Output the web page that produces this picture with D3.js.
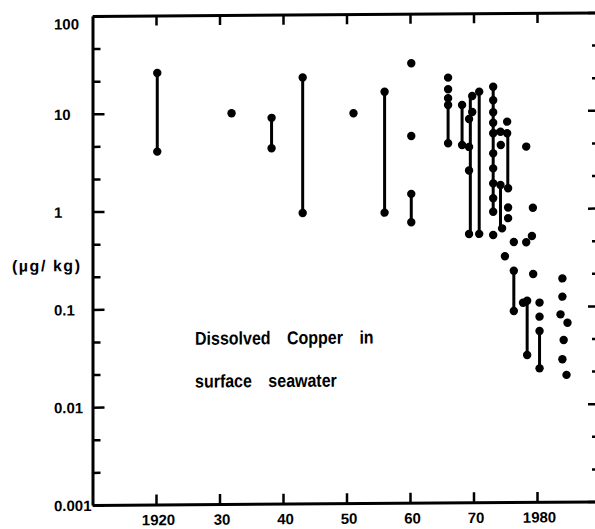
<!DOCTYPE html>
<html lang="en">
<head>
<meta charset="utf-8">
<script src="https://cdn.jsdelivr.net/npm/d3@7"></script>
<style>
	body { margin:0; padding:0; background:#ffffff; }
	svg text { font-family: "Liberation Sans", Arial, sans-serif; font-weight: bold; font-size: 15px; fill: #000; }
</style>
</head>
<body>
<svg id="chart" width="595" height="529"></svg>
<script>
// y axis (log), value and label
var yMajor = [0.001, 0.01, 0.1, 1, 10, 100];
var yLabels = ["0.001", "0.01", "0.1", "1", "10", "100"];
// x axis years
var xTicks = [1920, 1930, 1940, 1950, 1960, 1970, 1980];
var xLabels = ["1920", "30", "40", "50", "60", "70", "1980"];

// measurements: [year, value in ug/kg]
var dots = [
	[1920.2, 25.9], [1920.2, 4.06],
	[1931.9, 9.9],
	[1938.2, 8.83], [1938.2, 4.31],
	[1943.1, 22.7], [1943.1, 0.934],
	[1951.1, 9.7],
	[1956.0, 16.0], [1956.0, 0.93],
	[1960.2, 31.2], [1960.2, 5.63], [1960.2, 1.44], [1960.2, 0.738],
	[1966.0, 22.1], [1966.0, 16.8], [1966.0, 13.6], [1966.0, 11.6], [1966.0, 4.71],
	[1968.2, 11.6], [1968.2, 4.51],
	[1969.8, 14.3], [1969.8, 9.79], [1969.3, 8.32], [1969.3, 4.31], [1969.3, 2.47], [1969.3, 0.555],
	[1970.9, 15.8], [1970.9, 0.555],
	[1973.1, 17.7], [1973.1, 12.9], [1973.1, 9.7], [1973.1, 7.59], [1973.1, 5.92], [1973.1, 3.69],
	[1973.1, 2.59], [1973.1, 1.82], [1973.1, 1.28], [1973.1, 0.934], [1973.1, 0.54],
	[1974.25, 6.13], [1974.3, 4.48], [1975.3, 7.76], [1975.3, 5.9], [1974.25, 1.75], [1974.5, 0.63],
	[1975.45, 1.62], [1975.45, 1.03], [1975.45, 0.80],
	[1974.95, 0.326], [1976.35, 0.456], [1978.3, 0.452], [1979.2, 0.524], [1978.3, 4.30], [1979.35, 1.02],
	[1976.35, 0.232], [1976.35, 0.0898],
	[1977.8, 0.109], [1978.45, 0.114], [1978.45, 0.0318],
	[1979.4, 0.214],
	[1980.4, 0.109], [1980.4, 0.0783], [1980.4, 0.0558], [1980.4, 0.0232],
	[1984.0, 0.192], [1984.0, 0.125], [1983.7, 0.0824], [1984.8, 0.0676], [1984.2, 0.045],
	[1984.0, 0.0286], [1984.65, 0.0198]
];

// ranges joined by a line: [year, high, low]
var bars = [
	[1920.2, 25.9, 4.06],
	[1938.2, 8.83, 4.31],
	[1943.1, 22.7, 0.934],
	[1956.0, 16.0, 0.93],
	[1960.2, 1.44, 0.738],
	[1966.0, 13.6, 4.71],
	[1968.2, 11.6, 4.51],
	[1969.5, 14.3, 0.555],
	[1970.9, 15.8, 0.555],
	[1973.1, 17.7, 0.934],
	[1974.25, 1.75, 0.63],
	[1975.4, 6.1, 1.62],
	[1976.35, 0.232, 0.0898],
	[1978.45, 0.114, 0.0318],
	[1980.4, 0.0558, 0.0232]
];
// bracket across: [year1, value1, year2, value2]
var links = [[1973.1, 6.3, 1975.4, 6.1]];

var noteLines = ["Dissolved Copper in", "surface seawater"];
var unitLabel = "(\u00b5g/ kg)";

var svg = d3.select("#chart");
var x = d3.scaleLinear().domain([1910, 1990]).range([92.5, 600.5]);
var y = d3.scaleLog().domain([0.001, 100]).range([505, 16]);

// two minor ticks per decade (thirds)
var yMinor = [];
yMajor.slice(0, -1).forEach(function(v){
	yMinor.push(v * Math.pow(10, 1/3), v * Math.pow(10, 2/3));
});

// the scan is slightly sheared
var g = svg.append("g").attr("transform", "translate(0,0.64) skewY(-0.4)");

function thick(sel){
	sel.select(".domain").attr("stroke-width", 3);
	sel.selectAll(".tick line").attr("stroke-width", 2.5);
}
function bare(sel){
	sel.select(".domain").remove();
	sel.selectAll(".tick text").remove();
	sel.selectAll(".tick line").attr("stroke-width", 2.5);
}

// left
var leftAxis = g.append("g").attr("transform", "translate(92.5,0)")
	.call(d3.axisLeft(y).tickValues(yMajor).tickSizeInner(-12).tickSizeOuter(0)
		.tickFormat(function(d){ return yLabels[yMajor.indexOf(d)]; }))
	.call(thick);
leftAxis.selectAll(".tick text")
	.attr("x", 54 - 92.5)
	.attr("text-anchor", "start")
	.attr("dy", function(d){ return d === 100 ? "0.85em" : "0.36em"; });
g.append("g").attr("transform", "translate(92.5,0)")
	.call(d3.axisLeft(y).tickValues(yMinor).tickSizeInner(-8).tickSizeOuter(0))
	.call(bare);

// right
g.append("g").attr("transform", "translate(598,0)")
	.call(d3.axisRight(y).tickValues(yMajor).tickSizeInner(-10).tickSizeOuter(0))
	.call(bare);
g.append("g").attr("transform", "translate(598,0)")
	.call(d3.axisRight(y).tickValues(yMinor).tickSizeInner(-6).tickSizeOuter(0))
	.call(bare);

// bottom
var bottomAxis = g.append("g").attr("transform", "translate(0,505)")
	.call(d3.axisBottom(x).tickValues(xTicks).tickSizeInner(-10).tickSizeOuter(0).tickPadding(10)
		.tickFormat(function(d){ return xLabels[xTicks.indexOf(d)]; }))
	.call(thick);
bottomAxis.selectAll(".tick text").attr("dx", 2);

// top
var topAxis = g.append("g").attr("transform", "translate(0,16)")
	.call(d3.axisTop(x).tickValues(xTicks).tickSizeInner(-10).tickSizeOuter(0).tickFormat(""))
	.call(thick);
topAxis.selectAll(".tick text").remove();

// unit
g.append("text")
	.attr("x", 12).attr("y", 271)
	.attr("textLength", 68).attr("lengthAdjust", "spacing")
	.style("font-size", "16px")
	.text(unitLabel);

// note
g.append("g").selectAll("text").data(noteLines).join("text")
	.attr("transform", function(d, i){ return "translate(195," + (345.5 + i * 42.8) + ") scale(1,1.15)"; })
	.style("font-size", "16px")
	.style("word-spacing", "12px")
	.text(function(d){ return d; });

// data
var marks = g.append("g");
marks.selectAll("line.bar").data(bars).join("line")
	.attr("class", "bar")
	.attr("x1", function(d){ return x(d[0]); })
	.attr("x2", function(d){ return x(d[0]); })
	.attr("y1", function(d){ return y(d[1]); })
	.attr("y2", function(d){ return y(d[2]); })
	.attr("stroke", "#000").attr("stroke-width", 3);
marks.selectAll("line.link").data(links).join("line")
	.attr("class", "link")
	.attr("x1", function(d){ return x(d[0]); })
	.attr("y1", function(d){ return y(d[1]); })
	.attr("x2", function(d){ return x(d[2]); })
	.attr("y2", function(d){ return y(d[3]); })
	.attr("stroke", "#000").attr("stroke-width", 2.5);
marks.selectAll("circle").data(dots).join("circle")
	.attr("cx", function(d){ return x(d[0]); })
	.attr("cy", function(d){ return y(d[1]); })
	.attr("r", 4.2)
	.attr("fill", "#000");
</script>
</body>
</html>
